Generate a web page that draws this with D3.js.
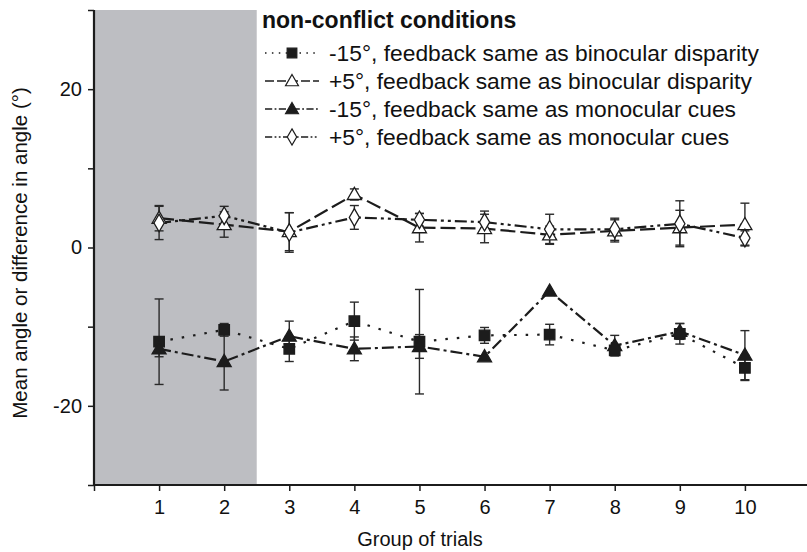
<!DOCTYPE html>
<html>
<head>
<meta charset="utf-8">
<script src="https://cdn.jsdelivr.net/npm/d3@7/dist/d3.min.js"></script>
<style>
  html, body { margin: 0; padding: 0; background: #fff; }
  svg { display: block; font-family: "Liberation Sans", Arial, Helvetica, sans-serif; }
</style>
</head>
<body>
<svg id="chart" width="807" height="552"></svg>
<script>
// Groups of trials on the x axis
const trials = [1, 2, 3, 4, 5, 6, 7, 8, 9, 10];
const xTickValues = [0, 1, 2, 3, 4, 5, 6, 7, 8, 9, 10];
const yTickValues = [-30, -20, -10, 0, 10, 20, 30];
const yTickLabels = ["", "-20", "", "0", "", "20", ""];

// -15°, feedback same as binocular disparity (filled squares)
const negBinoMean = [-11.9, -10.4, -12.8, -9.3, -11.9, -11.1, -11.0, -13.0, -10.9, -15.2];
const negBinoErr  = [5.4, 0.8, 1.6, 2.4, 6.6, 1.0, 1.3, 0.5, 1.3, 1.6];
// +5°, feedback same as binocular disparity (open triangles)
const posBinoMean = [3.7, 2.9, 2.0, 6.7, 2.5, 2.4, 1.6, 2.1, 2.5, 2.9];
const posBinoErr  = [1.6, 1.6, 2.4, 0.7, 1.8, 1.8, 1.1, 1.4, 2.2, 2.7];
// -15°, feedback same as monocular cues (filled triangles)
const negMonoMean = [-12.8, -14.4, -11.2, -12.8, -12.5, -13.8, -5.5, -12.4, -10.6, -13.6];
const negMonoErr  = [1.0, 3.6, 1.9, 1.5, 1.5, 0, 0, 1.3, 1.0, 3.1];
// +5°, feedback same as monocular cues (open diamonds)
const posMonoMean = [3.1, 4.0, 1.9, 3.8, 3.5, 3.2, 2.3, 2.3, 3.0, 1.2];
const posMonoErr  = [2.1, 1.2, 2.5, 1.5, 0.8, 1.4, 1.9, 1.4, 2.9, 0.9];

const legendTitle = "non-conflict conditions";
const seriesLabels = [
  "-15°, feedback same as binocular disparity",
  "+5°, feedback same as binocular disparity",
  "-15°, feedback same as monocular cues",
  "+5°, feedback same as monocular cues"
];
const xTitle = "Group of trials";
const yTitle = "Mean angle or difference in angle (°)";
const shadedUpTo = 2.5;

const ink = "#1c1c1c";
const series = [
  { mean: negBinoMean, err: negBinoErr, symbol: d3.symbolSquare, size: 110, fill: ink, dash: "2.5,9" },
  { mean: posBinoMean, err: posBinoErr, symbol: d3.symbolTriangle, size: 85, fill: "#fff", dash: "15,5" },
  { mean: negMonoMean, err: negMonoErr, symbol: d3.symbolTriangle, size: 85, fill: ink, dash: "12,4,3,4" },
  { mean: posMonoMean, err: posMonoErr, symbol: d3.symbolDiamond, size: 90, fill: "#fff", dash: "12,4,3,4,3,4" }
].map((s, i) => ({ ...s, label: seriesLabels[i] }));

const svg = d3.select("#chart");
const x = d3.scaleLinear().domain([0, 11]).range([94, 810]);
const y = d3.scaleLinear().domain([-30, 30]).range([485, 10]);

// Shaded band for the first groups of trials
svg.append("rect")
  .attr("x", x(0)).attr("y", y(30))
  .attr("width", x(shadedUpTo) - x(0))
  .attr("height", y(-30) - y(30))
  .attr("fill", "#bdbec2");

// Axes
const xAxis = svg.append("g")
  .attr("transform", `translate(0,${y(-30)})`)
  .call(d3.axisBottom(x).tickValues(xTickValues).tickSize(6).tickPadding(9)
    .tickFormat(d => d === 0 ? "" : d));
const yAxis = svg.append("g")
  .attr("transform", `translate(${x(0)},0)`)
  .call(d3.axisLeft(y).tickValues(yTickValues).tickSize(6).tickPadding(6)
    .tickFormat((d, i) => yTickLabels[i]));
[xAxis, yAxis].forEach(g => {
  g.select(".domain").attr("stroke", ink).attr("stroke-width", 2.2);
  g.selectAll(".tick line").attr("stroke", ink).attr("stroke-width", 1.5);
  g.selectAll(".tick text").attr("fill", "#111").style("font-size", "20px")
    .style("font-family", "'Liberation Sans', Arial, sans-serif");
});
xAxis.select(".domain").attr("d", `M${x(0)},0H807`);
yAxis.select(".domain").attr("d", `M0,${y(30)}V${y(-30)}`);

// Axis titles
svg.append("text")
  .attr("x", 420).attr("y", 546)
  .attr("text-anchor", "middle")
  .attr("fill", "#111").style("font-size", "20px")
  .text(xTitle);
svg.append("text")
  .attr("transform", `translate(27,253) rotate(-90)`)
  .attr("text-anchor", "middle")
  .attr("fill", "#111").style("font-size", "20.5px")
  .text(yTitle);

// Connecting lines
const line = d3.line().x((d, i) => x(trials[i])).y(d => y(d));
series.forEach(s => {
  svg.append("path")
    .attr("d", line(s.mean))
    .attr("fill", "none")
    .attr("stroke", ink)
    .attr("stroke-width", 2.2)
    .attr("stroke-dasharray", s.dash);
});

// Error bars
series.forEach(s => {
  const g = svg.append("g").attr("stroke", "#2a2a2a").attr("stroke-width", 1.4);
  s.mean.forEach((m, i) => {
    const e = s.err[i];
    if (!e) return;
    const cx = x(trials[i]);
    g.append("line").attr("x1", cx).attr("x2", cx).attr("y1", y(m + e)).attr("y2", y(m - e));
    [m + e, m - e].forEach(v => {
      g.append("line").attr("x1", cx - 4.5).attr("x2", cx + 4.5).attr("y1", y(v)).attr("y2", y(v));
    });
  });
});

// Markers
series.forEach(s => {
  const sym = d3.symbol().type(s.symbol).size(s.size);
  svg.append("g").selectAll("path")
    .data(s.mean)
    .join("path")
    .attr("d", sym)
    .attr("transform", (d, i) => `translate(${x(trials[i])},${y(d) + (s.symbol === d3.symbolTriangle ? 1 : 0)})`)
    .attr("fill", s.fill)
    .attr("stroke", ink)
    .attr("stroke-width", 1.3);
});

// Legend
const legend = svg.append("g");
legend.append("text")
  .attr("x", 262).attr("y", 28)
  .attr("fill", "#111")
  .style("font-size", "23px").style("font-weight", "bold")
  .text(legendTitle);
series.forEach((s, i) => {
  const cy = 53 + i * 28;
  legend.append("line")
    .attr("x1", 265).attr("x2", 319).attr("y1", cy).attr("y2", cy)
    .attr("stroke", ink).attr("stroke-width", 1.6)
    .attr("stroke-dasharray", s.dash.split(",").map(v => +v * 0.6).join(","));
  legend.append("path")
    .attr("d", d3.symbol().type(s.symbol).size(s.size * 0.85)())
    .attr("transform", `translate(292,${cy + (s.symbol === d3.symbolTriangle ? 1 : 0)})`)
    .attr("fill", s.fill).attr("stroke", ink).attr("stroke-width", 1.2);
  legend.append("text")
    .attr("x", 329).attr("y", cy + 8)
    .attr("fill", "#111")
    .style("font-size", "22.8px")
    .text(s.label);
});
</script>
</body>
</html>
